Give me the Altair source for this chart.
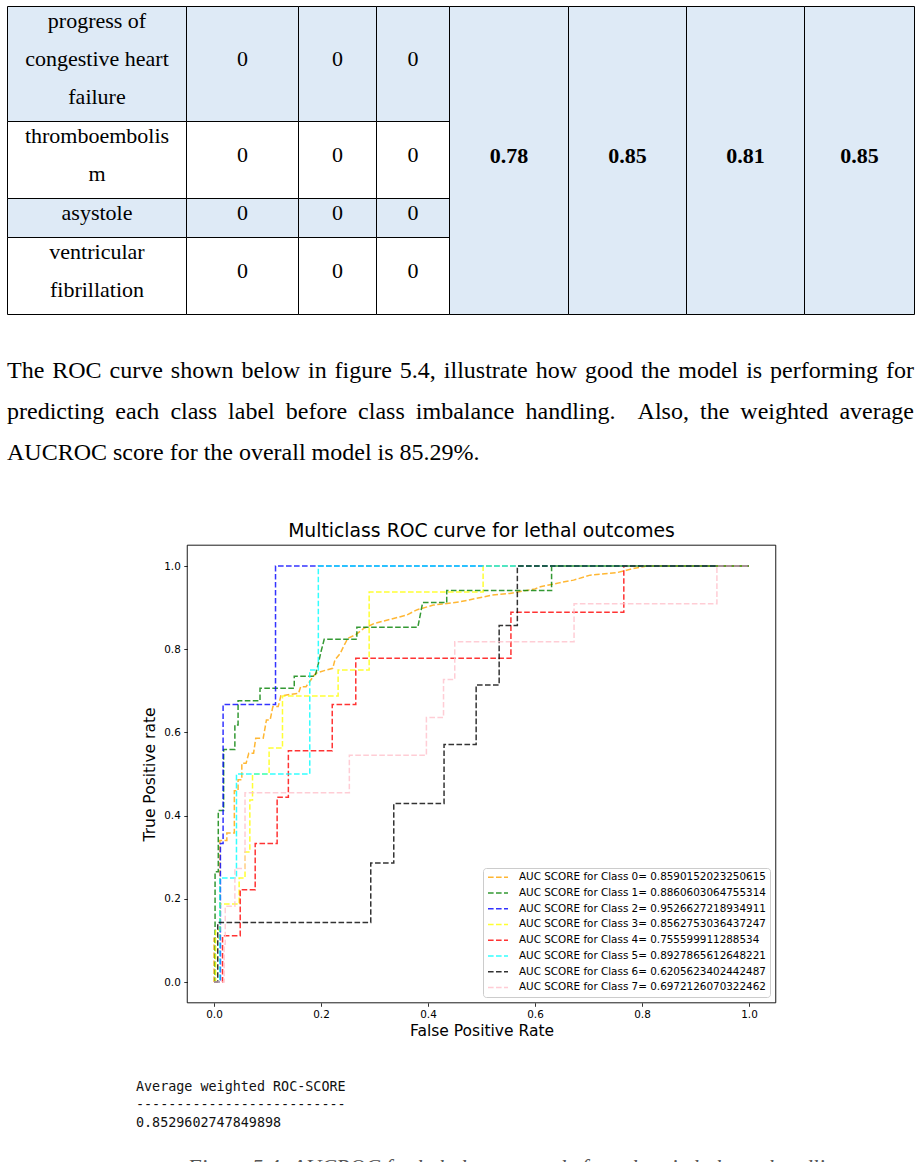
import re
import altair as alt
import pandas as pd

# ---------------------------------------------------------------- table data
row_labels = [
    "progress of\ncongestive heart\nfailure",
    "thromboembolis\nm",
    "asystole",
    "ventricular\nfibrillation",
]
row_counts = [[0, 0, 0], [0, 0, 0], [0, 0, 0], [0, 0, 0]]
merged_scores = [0.78, 0.85, 0.81, 0.85]

# ---------------------------------------------------------------- paragraph
para_lines = [
    "The ROC curve shown below in figure 5.4, illustrate how good the model is performing for",
    "predicting each class label before class imbalance handling.  Also, the weighted average",
    "AUCROC score for the overall model is 85.29%.",
]
para_justify = [True, True, False]

# ---------------------------------------------------------------- ROC curves
chart_title = "Multiclass ROC curve for lethal outcomes"
x_title = "False Positive Rate"
y_title = "True Positive rate"
class_colors = ["orange", "green", "blue", "yellow", "red", "cyan", "black", "pink"]
auc_scores = [
    "0.8590152023250615", "0.8860603064755314", "0.9526627218934911",
    "0.8562753036437247", "0.755599911288534", "0.8927865612648221",
    "0.6205623402442487", "0.6972126070322462",
]

fpr0 = [0, 0, 0.011, 0.011, 0.024, 0.024, 0.038, 0.038, 0.045, 0.045, 0.052, 0.052, 0.06, 0.065,
        0.074, 0.078, 0.092, 0.098, 0.105, 0.11, 0.12, 0.125, 0.158, 0.162, 0.172, 0.19, 0.21,
        0.222, 0.226, 0.236, 0.242, 0.25, 0.265, 0.28, 0.3, 0.33, 0.36, 0.38, 0.41, 0.46, 0.49,
        0.52, 0.553, 0.6, 0.61, 0.647, 0.672, 0.703, 0.753, 0.784, 0.81, 1.0]
tpr0 = [0, 0.105, 0.105, 0.34, 0.34, 0.358, 0.358, 0.46, 0.46, 0.486, 0.486, 0.526, 0.526, 0.55,
        0.55, 0.586, 0.586, 0.63, 0.63, 0.662, 0.662, 0.688, 0.694, 0.71, 0.71, 0.742, 0.75,
        0.754, 0.774, 0.79, 0.806, 0.826, 0.835, 0.85, 0.862, 0.872, 0.882, 0.895, 0.906, 0.914,
        0.922, 0.93, 0.934, 0.945, 0.95, 0.96, 0.966, 0.978, 0.984, 0.994, 1.0, 1.0]

fpr1 = [0, 0.002, 0.002, 0.008, 0.008, 0.018, 0.018, 0.039, 0.039, 0.045, 0.045, 0.086, 0.086,
        0.15, 0.15, 0.189, 0.195, 0.2, 0.206, 0.267, 0.267, 0.381, 0.39, 0.435, 0.435, 0.631,
        0.631, 1.0]
tpr1 = [0, 0, 0.265, 0.265, 0.412, 0.412, 0.559, 0.559, 0.618, 0.618, 0.676, 0.676, 0.706,
        0.706, 0.735, 0.735, 0.765, 0.794, 0.824, 0.824, 0.853, 0.853, 0.912, 0.912, 0.941,
        0.941, 1.0, 1.0]

fpr2 = [0, 0.012, 0.012, 0.017, 0.017, 0.115, 0.115, 1.0]
tpr2 = [0, 0, 0.333, 0.333, 0.667, 0.667, 1.0, 1.0]

fpr3 = [0, 0.003, 0.003, 0.011, 0.011, 0.047, 0.047, 0.058, 0.058, 0.067, 0.067, 0.072, 0.072,
        0.103, 0.103, 0.128, 0.128, 0.232, 0.232, 0.29, 0.29, 0.503, 0.503, 1.0]
tpr3 = [0, 0, 0.125, 0.125, 0.1875, 0.1875, 0.25, 0.25, 0.3125, 0.3125, 0.4375, 0.4375, 0.5,
        0.5, 0.5625, 0.5625, 0.6875, 0.6875, 0.75, 0.75, 0.9375, 0.9375, 1.0, 1.0]

fpr4 = [0, 0.016, 0.016, 0.049, 0.049, 0.077, 0.077, 0.118, 0.118, 0.139, 0.139, 0.221, 0.221,
        0.265, 0.265, 0.555, 0.555, 0.766, 0.766, 1.0]
tpr4 = [0, 0, 0.111, 0.111, 0.222, 0.222, 0.333, 0.333, 0.444, 0.444, 0.556, 0.556, 0.667,
        0.667, 0.778, 0.778, 0.889, 0.889, 1.0, 1.0]

fpr5 = [0, 0.011, 0.011, 0.042, 0.042, 0.179, 0.179, 0.195, 0.195, 1.0]
tpr5 = [0, 0, 0.25, 0.25, 0.5, 0.5, 0.75, 0.75, 1.0, 1.0]

fpr6 = [0, 0.007, 0.007, 0.293, 0.293, 0.336, 0.336, 0.43, 0.43, 0.49, 0.49, 0.533, 0.533,
        0.567, 0.567, 1.0]
tpr6 = [0, 0, 0.143, 0.143, 0.286, 0.286, 0.429, 0.429, 0.571, 0.571, 0.714, 0.714, 0.857,
        0.857, 1.0, 1.0]

fpr7 = [0, 0.019, 0.019, 0.021, 0.021, 0.039, 0.039, 0.058, 0.058, 0.253, 0.253, 0.397, 0.397,
        0.429, 0.429, 0.45, 0.45, 0.673, 0.673, 0.94, 0.94, 1.0]
tpr7 = [0, 0, 0.091, 0.091, 0.182, 0.182, 0.273, 0.273, 0.455, 0.455, 0.545, 0.545, 0.636,
        0.636, 0.727, 0.727, 0.818, 0.818, 0.909, 0.909, 1.0, 1.0]

fprs = [fpr0, fpr1, fpr2, fpr3, fpr4, fpr5, fpr6, fpr7]
tprs = [tpr0, tpr1, tpr2, tpr3, tpr4, tpr5, tpr6, tpr7]
axis_limits = [-0.05, 1.05]
tick_values = [0.0, 0.2, 0.4, 0.6, 0.8, 1.0]

# ---------------------------------------------------------------- console output
console_lines = ["Average weighted ROC-SCORE", "-" * 26, "0.8529602747849898"]
caption = "Figure 5.4: AUCROC for lethal outcomes before class imbalance handling"

# ================================================================ page layout
PAGE_W, PAGE_H = 921, 1162
SHADE = "#DEEAF6"
col_edges = [7.5, 186.5, 298.5, 376.5, 449.5, 568.5, 686.5, 804.5, 914.5]
row_edges = [6.5, 121.5, 198.5, 237.5, 314.5]
row_shaded = [True, False, True, False]
TABLE_FS, TABLE_LH, TEXT_RAISE = 22, 38, 5
PARA_FS, PARA_LEFT, PARA_RIGHT = 24, 7, 914
para_y = [371, 412, 453]
CONSOLE_X, console_y = 136, [1087, 1105, 1123]

# ROC plot frame in page pixels
FRAME_X = [187.25, 775.75]
FRAME_Y = [1002.8, 545.2]

# Times / Liberation Serif advance widths (1/1000 em)
TIMES_W = dict(zip("abcdefghijklmnopqrstuvwxyz",
                   [444, 500, 444, 500, 444, 333, 500, 500, 278, 278, 500, 278, 778, 500, 500,
                    500, 500, 333, 389, 278, 500, 500, 722, 500, 500, 444]))
TIMES_W.update(dict(zip("ABCDEFGHIJKLMNOPQRSTUVWXYZ",
                        [722, 667, 667, 722, 611, 556, 722, 722, 333, 389, 722, 611, 889, 722,
                         722, 556, 722, 667, 556, 611, 722, 722, 944, 722, 722, 611])))
TIMES_W.update({d: 500 for d in "0123456789"})
TIMES_W.update({" ": 250, ".": 250, ",": 250, "%": 833, "-": 333, ":": 278})


def text_width(s, size):
    return sum(TIMES_W.get(ch, 500) for ch in s) * size / 1000.0


# table cells
cells = []
for r in range(len(row_labels)):
    for c in range(4):
        cells.append(dict(x0=col_edges[c], x1=col_edges[c + 1], y0=row_edges[r],
                          y1=row_edges[r + 1], fill=SHADE if row_shaded[r] else "white"))
for c in range(4, 8):
    cells.append(dict(x0=col_edges[c], x1=col_edges[c + 1], y0=row_edges[0],
                      y1=row_edges[-1], fill=SHADE))
cells_df = pd.DataFrame(cells)

# table text
table_txt = []
for r, label in enumerate(row_labels):
    cy = (row_edges[r] + row_edges[r + 1]) / 2 - TEXT_RAISE
    parts = label.split("\n")
    for i, part in enumerate(parts):
        table_txt.append(dict(x=(col_edges[0] + col_edges[1]) / 2,
                              y=cy + (i - (len(parts) - 1) / 2) * TABLE_LH, text=part))
    for c, v in enumerate(row_counts[r]):
        table_txt.append(dict(x=(col_edges[c + 1] + col_edges[c + 2]) / 2, y=cy, text=str(v)))
table_txt_df = pd.DataFrame(table_txt)

score_df = pd.DataFrame([
    dict(x=(col_edges[c + 4] + col_edges[c + 5]) / 2,
         y=(row_edges[0] + row_edges[-1]) / 2 - TEXT_RAISE, text=f"{v:.2f}")
    for c, v in enumerate(merged_scores)
])

# paragraph words, justified
words = []
for line, just, y in zip(para_lines, para_justify, para_y):
    tokens = [t for t in re.split(r"( +)", line) if t]
    word_w = sum(text_width(t, PARA_FS) for t in tokens if not t.startswith(" "))
    n_sp = sum(len(t) for t in tokens if t.startswith(" "))
    sp = (PARA_RIGHT - PARA_LEFT - word_w) / n_sp if just else 250 * PARA_FS / 1000.0
    x = PARA_LEFT
    for t in tokens:
        if t.startswith(" "):
            x += len(t) * sp
        else:
            words.append(dict(x=x, y=y, text=t))
            x += text_width(t, PARA_FS)
words_df = pd.DataFrame(words)

console_df = pd.DataFrame(dict(x=[CONSOLE_X] * 3, y=console_y, text=console_lines))
title_df = pd.DataFrame(dict(x=[(FRAME_X[0] + FRAME_X[1]) / 2], y=[531], text=[chart_title]))
caption_df = pd.DataFrame(dict(x=[517], y=[1157], text=[caption]))


def px_x(f):
    return alt.X(f"{f}:Q", scale=None, axis=None)


def px_y(f):
    return alt.Y(f"{f}:Q", scale=None, axis=None)


cell_layer = alt.Chart(cells_df).mark_rect(stroke="black", strokeWidth=1).encode(
    x=px_x("x0"), x2="x1:Q", y=px_y("y0"), y2="y1:Q", fill=alt.Fill("fill:N", scale=None))

table_text_layer = alt.Chart(table_txt_df).mark_text(
    font="Liberation Serif", fontSize=TABLE_FS, align="center", baseline="middle",
    color="black").encode(x=px_x("x"), y=px_y("y"), text="text:N")

score_layer = alt.Chart(score_df).mark_text(
    font="Liberation Serif", fontSize=TABLE_FS, fontWeight="bold", align="center",
    baseline="middle", color="black").encode(x=px_x("x"), y=px_y("y"), text="text:N")

para_layer = alt.Chart(words_df).mark_text(
    font="Liberation Serif", fontSize=PARA_FS, align="left", baseline="middle",
    color="black").encode(x=px_x("x"), y=px_y("y"), text="text:N")

title_layer = alt.Chart(title_df).mark_text(
    font="DejaVu Sans", fontSize=18.8, align="center", baseline="middle",
    color="black").encode(x=px_x("x"), y=px_y("y"), text="text:N")

console_layer = alt.Chart(console_df).mark_text(
    font="DejaVu Sans Mono", fontSize=13.4, align="left", baseline="middle",
    color="#111111").encode(x=px_x("x"), y=px_y("y"), text="text:N")

caption_layer = alt.Chart(caption_df).mark_text(
    font="Liberation Serif", fontSize=22, fontStyle="italic", align="center",
    baseline="top", color="#555555").encode(x=px_x("x"), y=px_y("y"), text="text:N")

page = alt.layer(cell_layer, table_text_layer, score_layer, para_layer, title_layer,
                 console_layer, caption_layer)

# ================================================================ ROC plot
labels = [f"AUC SCORE for Class {k}= {s}" for k, s in enumerate(auc_scores)]
rows = []
for k in range(len(fprs)):
    for i, (a, b) in enumerate(zip(fprs[k], tprs[k])):
        rows.append(dict(cls=labels[k], idx=i, fpr=a, tpr=b))
roc_df = pd.DataFrame(rows)

x_scale = alt.Scale(domain=axis_limits, range=FRAME_X, nice=False, zero=False)
y_scale = alt.Scale(domain=axis_limits, range=FRAME_Y, nice=False, zero=False)
axis_common = dict(values=tick_values, format=".1f", grid=False, domain=False,
                   tickSize=3.5, tickWidth=0.8, tickColor="black", labelFont="DejaVu Sans",
                   labelFontSize=10.4, labelColor="black", labelPadding=3.5,
                   titleFont="DejaVu Sans", titleFontSize=15.5, titleFontWeight="normal",
                   titleColor="black")
x_axis = alt.Axis(title=x_title, orient="bottom", offset=FRAME_Y[0] - PAGE_H,
                  titlePadding=3, **axis_common)
y_axis = alt.Axis(title=y_title, orient="left", offset=-FRAME_X[0], titlePadding=6,
                  **axis_common)

lines = alt.Chart(roc_df).mark_line(strokeWidth=1.5, strokeDash=[5.6, 2.4], opacity=0.8).encode(
    x=alt.X("fpr:Q", scale=x_scale, axis=x_axis),
    y=alt.Y("tpr:Q", scale=y_scale, axis=y_axis),
    color=alt.Color("cls:N", scale=alt.Scale(domain=labels, range=class_colors),
                    legend=alt.Legend(title=None, orient="none", legendX=483, legendY=868,
                                      symbolType="stroke", symbolSize=400,
                                      symbolStrokeWidth=1.5, symbolDash=[5.6, 2.4],
                                      symbolOpacity=0.8, labelFont="DejaVu Sans",
                                      labelFontSize=10.4, labelColor="black",
                                      labelLimit=400, labelOffset=10, clipHeight=10.4,
                                      rowPadding=4.75, padding=4, strokeColor="#cccccc",
                                      fillColor="white", cornerRadius=3)),
    detail="cls:N",
    order="idx:Q",
)

frame_df = pd.DataFrame(dict(x0=[axis_limits[0]], x1=[axis_limits[1]],
                             y0=[axis_limits[0]], y1=[axis_limits[1]]))
frame = alt.Chart(frame_df).mark_rect(fill="white", fillOpacity=0, stroke="black",
                                      strokeWidth=0.9).encode(
    x=alt.X("x0:Q", scale=x_scale, axis=x_axis), x2="x1:Q",
    y=alt.Y("y0:Q", scale=y_scale, axis=y_axis), y2="y1:Q")

roc = alt.layer(lines, frame)

chart = (
    alt.layer(page, roc)
    .resolve_scale(x="independent", y="independent")
    .properties(width=PAGE_W, height=PAGE_H, padding=0,
                autosize=alt.AutoSizeParams(type="none"))
    .configure_view(stroke=None)
)

chart.save("out.html", embed_options={"renderer": "svg", "actions": False})
